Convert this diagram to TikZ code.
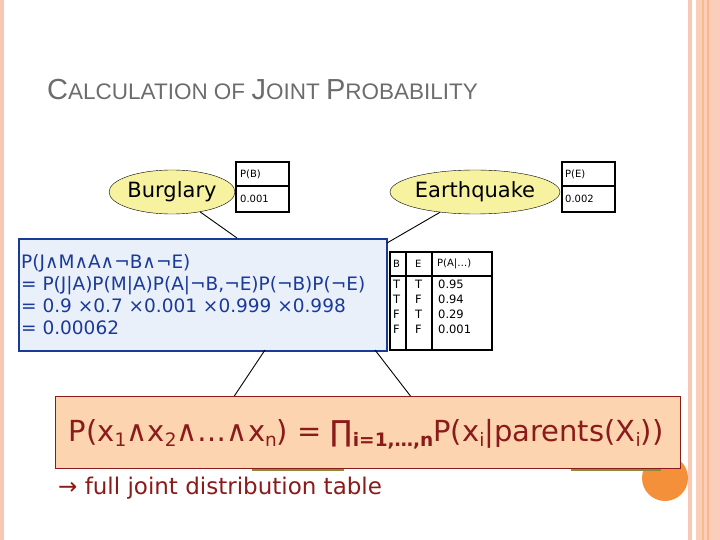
\documentclass[tikz,border=0pt]{standalone}
\usepackage{fontspec}
\setmainfont{DejaVu Sans}
\newfontfamily\titlefont{Liberation Sans}
\usetikzlibrary{positioning,shapes.geometric}
\definecolor{salmon}{HTML}{F9C8B4}
\definecolor{navy}{HTML}{1A3A9A}
\definecolor{boxblue}{HTML}{EAF0FA}
\definecolor{dred}{HTML}{8B1A1A}
\definecolor{peach}{HTML}{FCD5B0}
\definecolor{ylw}{HTML}{F6F2A0}
\definecolor{orng}{HTML}{F5903A}
\newcommand{\lowsub}[1]{\raisebox{-5pt}{\fontsize{18.5}{20}\selectfont #1}}
\tikzset{
  cpt/.style={draw=black,line width=1.6pt},
  bnode/.style={ellipse,draw=black,fill=ylw,inner sep=0pt},
  edge/.style={draw=black,line width=0.9pt},
  small/.style={font=\fontsize{10}{12}\selectfont,inner sep=0pt,anchor=west}
}
\begin{document}
\begin{tikzpicture}[x=1pt,y=-1pt]
\useasboundingbox (0,0) rectangle (720,540);
% border stripes
\fill[salmon] (0,0) rectangle (4,540);
\fill[salmon] (688,0) rectangle (692,540);
\fill[salmon!90] (696,0) rectangle (720,540);
\fill[orng!60] (702,0) rectangle (704,540);
\fill[salmon!70!orng] (707,0) rectangle (709,540);
% title
\node[anchor=base west,inner sep=0pt,text=gray!85!black,font=\titlefont] (title) at (47,100)
 {{\fontsize{29}{30}\selectfont C}{\fontsize{22.5}{24}\selectfont ALCULATION OF }{\fontsize{29}{30}\selectfont J}{\fontsize{22.5}{24}\selectfont OINT }{\fontsize{29}{30}\selectfont P}{\fontsize{22.5}{24}\selectfont ROBABILITY}};
% hidden things behind orange box
\fill[orng] (665,478) circle (23);
\draw[draw=olive!60!gray,line width=1.5pt] (253,462) rectangle (343,470);
\draw[draw=olive!60!gray,line width=1.5pt] (572,462) rectangle (660,470);
% nodes
\node[bnode,minimum width=100,minimum height=44,font=\fontsize{21}{24}\selectfont] (B) at (172,192) {Burglary};
\node[bnode,minimum width=138,minimum height=44,font=\fontsize{21}{24}\selectfont] (E) at (475,192) {Earthquake};
% P(B)
\draw[cpt] (236,162) rectangle (289,212); \draw[cpt] (236,186) -- (289,186);
\node[small] (pb) at (240,174) {P(B)}; \node[small] (pbv) at (240,199) {0.001};
\draw[cpt] (562,162) rectangle (615,212); \draw[cpt] (562,186) -- (615,186);
\node[small] (pe) at (565,174) {P(E)}; \node[small] (pev) at (565,199) {0.002};
% A CPT
\draw[cpt] (390,252) rectangle (492,350);
\draw[cpt] (406,252) -- (406,350); \draw[cpt] (432,252) -- (432,350); \draw[cpt] (390,276) -- (492,276);
\node[small] (h1) at (393,264) {B}; \node[small] (h2) at (415,264) {E}; \node[small] (h3) at (437,264) {P(A|…)};
\node[small,align=left,anchor=north west,font=\fontsize{11.5}{15}\selectfont] (c1) at (393,280) {T\\T\\F\\F};
\node[small,align=left,anchor=north west,font=\fontsize{11.5}{15}\selectfont] (c2) at (415,280) {T\\F\\T\\F};
\node[small,align=left,anchor=north west,font=\fontsize{11.5}{15}\selectfont] (c3) at (438,280) {0.95\\0.94\\0.29\\0.001};
% blue box
\node[draw=navy,fill=boxblue,line width=2pt,minimum width=368,minimum height=112,anchor=north west,inner sep=0pt] (blue) at (18,238) {};
\node[anchor=north west,align=left,text=navy,inner sep=0pt,font=\fontsize{18.5}{22}\selectfont] (ftext) at (21,254)
 {P(J∧M∧A∧¬B∧¬E)\\= P(J|A)P(M|A)P(A|¬B,¬E)P(¬B)P(¬E)\\= 0.9 ×0.7 ×0.001 ×0.999 ×0.998\\= 0.00062};
\draw[edge] (B) -- (237,238);
\draw[edge] (E) -- (387,243);
\coordinate (j) at (233,398); \coordinate (m) at (412,398);
\draw[edge] (265,350) -- (j);
\draw[edge] (375,350) -- (m);
% orange box
\node[draw=dred,fill=peach,line width=0.8pt,minimum width=625,minimum height=72,anchor=north west,inner sep=0pt] (orange) at (55,396) {};
\node[text=dred,inner sep=0pt,font=\fontsize{29}{30}\selectfont] (formula) at (366,434)
 {P(x\lowsub{1}∧x\lowsub{2}∧…∧x\lowsub{n}) = ∏\lowsub{\bfseries i=1,…,n}P(x\lowsub{i}|parents(X\lowsub{i}))};
\node[anchor=base west,text=dred,inner sep=0pt,font=\fontsize{23}{26}\selectfont] (full) at (58,494) {→ full joint distribution table};
\end{tikzpicture}
\end{document}
